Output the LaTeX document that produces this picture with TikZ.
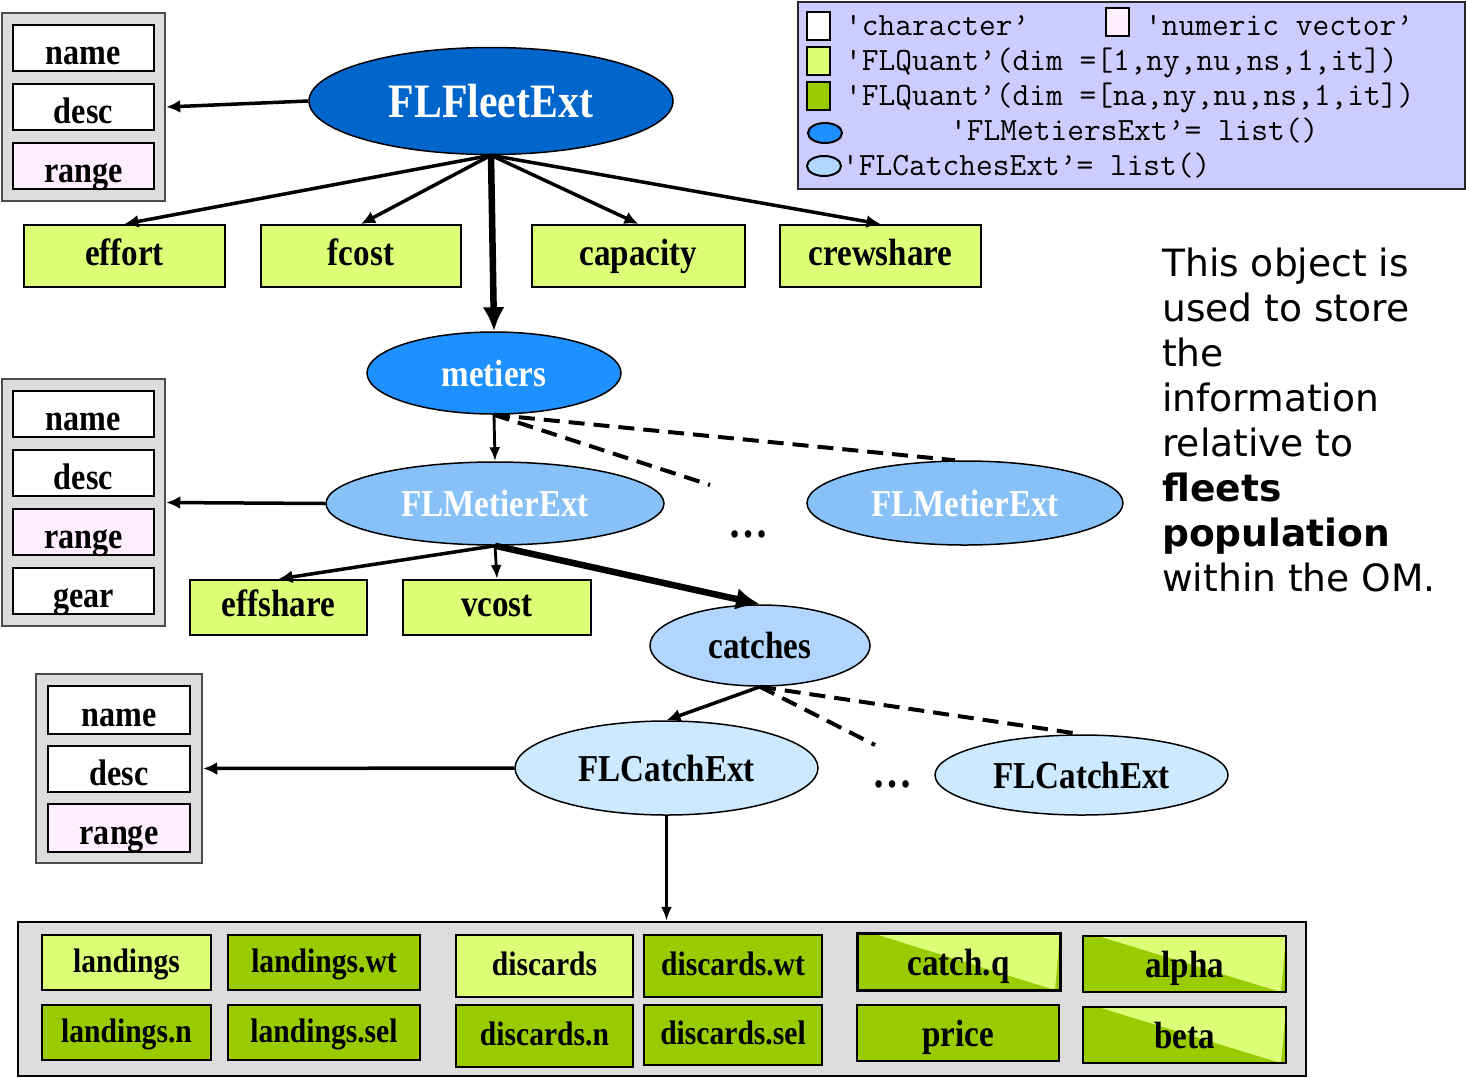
\documentclass[tikz,border=0pt]{standalone}
\usepackage{fontspec}
\setmainfont{Liberation Serif}
\newfontfamily\tnr[FakeStretch=0.87]{Liberation Serif}
\newfontfamily\dvs{DejaVu Sans}
\usetikzlibrary{shapes.geometric,arrows.meta,calc}
\definecolor{fleetblue}{HTML}{0066CC}
\definecolor{metblue}{HTML}{1E90FF}
\definecolor{metierblue}{HTML}{88C0F8}
\definecolor{catchesblue}{HTML}{B3D6FF}
\definecolor{catchblue}{HTML}{CCE9FF}
\definecolor{lgreen}{HTML}{DDFF77}
\definecolor{dgreen}{HTML}{99CC00}
\definecolor{pinkv}{HTML}{FFEEFF}
\definecolor{framegray}{HTML}{DDDDDD}
\definecolor{legendbg}{HTML}{CCCCFF}
\tikzset{
  grpframe/.style={draw=black!70, fill=framegray, line width=2.5pt, inner sep=0pt},
  slotbox/.style={draw=black, line width=2pt, fill=white, inner sep=0pt,
    font=\tnr\bfseries\fontsize{37}{40}\selectfont, text height=39pt, text depth=7pt},
  qbox/.style={draw=black, line width=2pt, fill=lgreen, inner sep=0pt,
    font=\tnr\bfseries\fontsize{38}{40}\selectfont, text height=26pt, text depth=8pt},
  lowtext/.style={text height=30pt, text depth=3pt},
  sbox/.style={draw=black, line width=2pt, inner sep=0pt,
    font=\tnr\bfseries\fontsize{34}{36}\selectfont, text height=24pt, text depth=5pt},
  splitbox/.style={fill=dgreen, path picture={
      \fill[lgreen] ($(path picture bounding box.north west)+(15pt,0pt)$) --
        (path picture bounding box.north east) --
        ($(path picture bounding box.south east)+(-5pt,0pt)$) -- cycle;}},
  oval/.style={ellipse, draw=black, line width=1.5pt, inner sep=0pt,
    font=\tnr\bfseries\fontsize{38}{40}\selectfont},
  dotsnode/.style={inner sep=0pt, font=\tnr\bfseries\fontsize{46}{48}\selectfont},
  arr/.style={line width=3.5pt, -{Latex[length=14pt,width=13pt]}},
  thickarr/.style={line width=6.5pt, -{Latex[length=24pt,width=22pt]}},
  thinarr/.style={line width=2.8pt, -{Latex[length=14pt,width=11pt]}},
  dashln/.style={line width=4pt, dash pattern=on 16pt off 9pt},
  legsq/.style={draw=black, line width=2pt, inner sep=0pt, minimum width=23pt, minimum height=28pt},
  legtxt/.style={anchor=base west, inner sep=0pt, font=\ttfamily\fontsize{32.5}{34}\selectfont},
}
\begin{document}
\begin{tikzpicture}[x=1pt,y=-1pt]
\useasboundingbox (0,0) rectangle (1466,1077);

% ---------- legend ----------
\node[draw=black!85, line width=2pt, fill=legendbg, minimum width=667pt, minimum height=187pt, inner sep=0pt] (legend) at (1131.5,95.5) {};
\node[legsq, fill=white] (lgchar) at (818.5,26) {};
\node[legtxt] (ltchar) at (845,35) {'character’};
\node[legsq, fill=pinkv] (lgnum) at (1117,22) {};
\node[legtxt] (ltnum) at (1145,35) {'numeric vector’};
\node[legsq, fill=lgreen] (lgq1) at (818.5,61) {};
\node[legtxt] (ltq1) at (845,70) {'FLQuant’(dim =[1,ny,nu,ns,1,it])};
\node[legsq, fill=dgreen] (lgq2) at (818.5,96) {};
\node[legtxt] (ltq2) at (845,105) {'FLQuant’(dim =[na,ny,nu,ns,1,it])};
\node[ellipse, draw=black, line width=2pt, fill=metblue, minimum width=34pt, minimum height=20pt, inner sep=0pt] (lgmet) at (825,133) {};
\node[legtxt] (ltmet) at (950,140) {'FLMetiersExt’= list()};
\node[ellipse, draw=black, line width=2pt, fill=catchesblue, minimum width=34pt, minimum height=20pt, inner sep=0pt] (lgcat) at (824,166) {};
\node[legtxt] (ltcat) at (842,175) {'FLCatchesExt’= list()};

% ---------- right text ----------
\node[anchor=north west, inner sep=0pt, align=left, font=\dvs\fontsize{37.6}{45}\selectfont] (info) at (1162,248)
  {This object is\\used to store\\the\\information\\relative to\\\textbf{fleets}\\\textbf{population}\\within the OM.};

% ---------- FLFleetExt ----------
\node[grpframe, minimum width=163pt, minimum height=188pt] (frameA) at (83.5,107) {};
\node[slotbox, minimum width=141pt, minimum height=46pt] (nameA) at (83.5,48) {name};
\node[slotbox, minimum width=141pt, minimum height=46pt] (descA) at (83.5,107) {desc};
\node[slotbox, fill=pinkv, minimum width=141pt, minimum height=46pt] (rangeA) at (83.5,166) {range};

\node[oval, fill=fleetblue, text=white, minimum width=364pt, minimum height=107pt,
  font=\tnr\bfseries\fontsize{48}{50}\selectfont] (fleet) at (491,101) {FLFleetExt};

\node[qbox, minimum width=201pt, minimum height=62pt] (effort) at (124.5,256) {effort};
\node[qbox, minimum width=200pt, minimum height=62pt] (fcost) at (361,256) {fcost};
\node[qbox, minimum width=213pt, minimum height=62pt] (capacity) at (638.5,256) {capacity};
\node[qbox, minimum width=201pt, minimum height=62pt] (crewshare) at (880.5,256) {crewshare};

\node[oval, fill=metblue, text=white, minimum width=254pt, minimum height=82pt] (metiers) at (494,373) {metiers};

% ---------- FLMetierExt ----------
\node[grpframe, minimum width=163pt, minimum height=247pt] (frameB) at (83.5,502.5) {};
\node[slotbox, minimum width=141pt, minimum height=46pt] (nameB) at (83.5,414) {name};
\node[slotbox, minimum width=141pt, minimum height=46pt] (descB) at (83.5,473) {desc};
\node[slotbox, fill=pinkv, minimum width=141pt, minimum height=46pt] (rangeB) at (83.5,532) {range};
\node[slotbox, minimum width=141pt, minimum height=46pt] (gearB) at (83.5,591) {gear};

\node[oval, fill=metierblue, text=white, minimum width=338pt, minimum height=83pt] (metierA) at (495,503.5) {FLMetierExt};
\node[oval, fill=metierblue, text=white, minimum width=316pt, minimum height=84pt] (metierB) at (965,503) {FLMetierExt};
\node[dotsnode] (dotsA) at (748,534) {…};

\node[qbox, minimum width=177pt, minimum height=55pt] (effshare) at (278.5,607.5) {effshare};
\node[qbox, minimum width=188pt, minimum height=55pt] (vcost) at (497,607.5) {vcost};

\node[oval, fill=catchesblue, minimum width=220pt, minimum height=81pt] (catches) at (760,645.5) {catches};

% ---------- FLCatchExt ----------
\node[grpframe, minimum width=166pt, minimum height=189pt] (frameC) at (119,768.5) {};
\node[slotbox, minimum width=142pt, minimum height=48pt] (nameC) at (119,710) {name};
\node[slotbox, minimum width=142pt, minimum height=46pt] (descC) at (119,769) {desc};
\node[slotbox, fill=pinkv, minimum width=142pt, minimum height=48pt] (rangeC) at (119,828) {range};

\node[oval, fill=catchblue, minimum width=303pt, minimum height=94pt] (catchA) at (666.5,768) {FLCatchExt};
\node[oval, fill=catchblue, minimum width=293pt, minimum height=80pt] (catchB) at (1081.5,775) {FLCatchExt};
\node[dotsnode] (dotsB) at (892,784) {…};

% ---------- slots of FLCatchExt ----------
\node[grpframe, draw=black, minimum width=1288pt, minimum height=154pt] (frameD) at (662,999) {};
\node[sbox, fill=lgreen, minimum width=169pt, minimum height=55pt] (landings) at (126.5,962.5) {landings};
\node[sbox, fill=dgreen, minimum width=192pt, minimum height=55pt] (landingswt) at (324,962.5) {landings.wt};
\node[sbox, fill=lgreen, minimum width=177pt, minimum height=62pt] (discards) at (544.5,966) {discards};
\node[sbox, fill=dgreen, minimum width=178pt, minimum height=62pt] (discardswt) at (733,966) {discards.wt};
\node[qbox, splitbox, lowtext, line width=3pt, minimum width=203pt, minimum height=57pt] (catchq) at (958.5,961.5) {catch.q};
\node[qbox, splitbox, lowtext, minimum width=203pt, minimum height=56pt] (alpha) at (1184.5,964) {alpha};
\node[sbox, fill=dgreen, minimum width=169pt, minimum height=55pt] (landingsn) at (126.5,1032.5) {landings.n};
\node[sbox, fill=dgreen, minimum width=192pt, minimum height=55pt] (landingssel) at (324,1032.5) {landings.sel};
\node[sbox, fill=dgreen, minimum width=177pt, minimum height=62pt] (discardsn) at (544.5,1036) {discards.n};
\node[sbox, fill=dgreen, minimum width=178pt, minimum height=60pt] (discardssel) at (733,1035) {discards.sel};
\node[qbox, lowtext, fill=dgreen, minimum width=202pt, minimum height=56pt] (price) at (958,1033) {price};
\node[qbox, splitbox, lowtext, minimum width=203pt, minimum height=56pt] (beta) at (1184.5,1035) {beta};

% ---------- connectors ----------
\coordinate (freeM) at (710,485);
\coordinate (freeC) at (875,745);

\draw[arr] (fleet.west) -- (frameA.east);
\draw[arr] (fleet.south) -- (effort.north);
\draw[arr] (fleet.south) -- (fcost.north);
\draw[arr] (fleet.south) -- (capacity.north);
\draw[arr] (fleet.south) -- (crewshare.north);
\draw[thickarr] (fleet.south) -- (metiers.north);

\draw[thinarr] (metiers.south) -- (metierA.north);
\draw[dashln] (metiers.south) -- (freeM);
\draw[dashln] (metiers.south) -- ($(metierB.north)+(-10,0)$);

\draw[arr] (metierA.west) -- (frameB.east);
\draw[arr] (metierA.south) -- (effshare.north);
\draw[thinarr] (metierA.south) -- (vcost.north);
\draw[thickarr] (metierA.south) -- (catches.north);

\draw[arr] (catches.south) -- (catchA.north);
\draw[dashln] (catches.south) -- (freeC);
\draw[dashln] (catches.south) -- (catchB.north);

\draw[arr] (catchA.west) -- (frameC.east);
\draw[thinarr] (catchA.south) -- (catchA.south |- frameD.north);
\end{tikzpicture}
\end{document}
